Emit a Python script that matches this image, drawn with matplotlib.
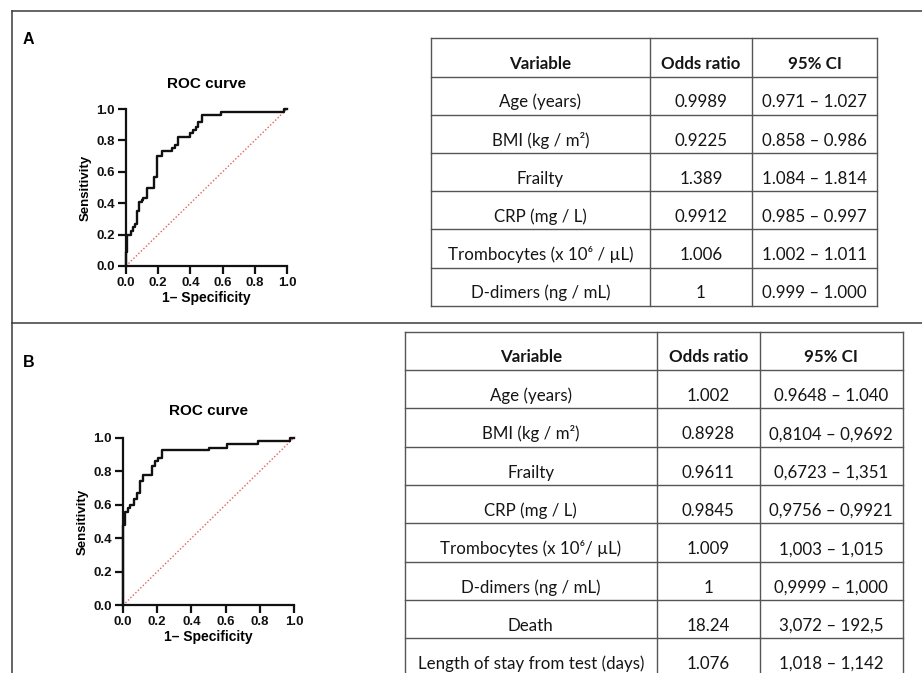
import matplotlib
matplotlib.use("Agg")
import matplotlib.pyplot as plt

# ---------------- data ----------------
roc_a_fpr = [0, 0, 0.008, 0.029, 0.041, 0.056, 0.070, 0.083, 0.097, 0.104, 0.133, 0.176,
             0.19, 0.222, 0.284, 0.304, 0.325, 0.397, 0.418, 0.435, 0.449, 0.47, 0.59, 0.98, 1.0]
roc_a_tpr = [0, 0.09, 0.20, 0.22, 0.25, 0.27, 0.35, 0.41, 0.42, 0.43, 0.50, 0.57,
             0.70, 0.73, 0.75, 0.77, 0.82, 0.845, 0.866, 0.887, 0.92, 0.96, 0.98, 1.0, 1.0]

roc_b_fpr = [0, 0, 0.012, 0.027, 0.043, 0.066, 0.08, 0.10, 0.119, 0.168, 0.187, 0.203,
             0.23, 0.5, 0.607, 0.788, 0.977, 1.0]
roc_b_tpr = [0, 0.48, 0.555, 0.58, 0.60, 0.635, 0.67, 0.74, 0.78, 0.83, 0.86, 0.88,
             0.926, 0.94, 0.96, 0.98, 1.0, 1.0]

ticks = [0.0, 0.2, 0.4, 0.6, 0.8, 1.0]
tick_labels = ["0.0", "0.2", "0.4", "0.6", "0.8", "1.0"]

table_header = ["Variable", "Odds ratio", "95% CI"]

vars_a = ["Age (years)", "BMI (kg / m\u00b2)", "Frailty", "CRP (mg / L)",
          "Trombocytes (x 10\u2076 / \u00b5L)", "D-dimers (ng / mL)"]
or_a = ["0.9989", "0.9225", "1.389", "0.9912", "1.006", "1"]
ci_a = ["0.971 \u2013 1.027", "0.858 \u2013 0.986", "1.084 \u2013 1.814",
        "0.985 \u2013 0.997", "1.002 \u2013 1.011", "0.999 \u2013 1.000"]

vars_b = ["Age (years)", "BMI (kg / m\u00b2)", "Frailty", "CRP (mg / L)",
          "Trombocytes (x 10\u2076/ \u00b5L)", "D-dimers (ng / mL)", "Death",
          "Length of stay from test (days)"]
or_b = ["1.002", "0.8928", "0.9611", "0.9845", "1.009", "1", "18.24", "1.076"]
ci_b = ["0.9648 \u2013 1.040", "0,8104 \u2013 0,9692", "0,6723 \u2013 1,351",
        "0,9756 \u2013 0,9921", "1,003 \u2013 1,015", "0,9999 \u2013 1,000",
        "3,072 \u2013 192,5", "1,018 \u2013 1,142"]

# ---------------- figure ----------------
W, H = 922, 673
fig = plt.figure(figsize=(W / 100, H / 100), dpi=100)
fig.patch.set_facecolor("white")

bg = fig.add_axes([0, 0, 1, 1])
bg.set_xlim(0, W)
bg.set_ylim(H, 0)
bg.axis("off")

frame_col = "#3a3a3a"
bg.plot([12, W], [11, 11], color=frame_col, lw=1.1)
bg.plot([12, 12], [11, H], color=frame_col, lw=1.1)
bg.plot([12, W], [323, 323], color=frame_col, lw=1.1)

bg.text(23, 44, "A", fontsize=11.5, fontweight="bold", family="Liberation Sans", va="baseline")
bg.text(23, 367, "B", fontsize=11.5, fontweight="bold", family="Liberation Sans", va="baseline")

TFONT = ["Lato", "DejaVu Sans"]
line_col = "#555555"
TSIZE = 12.2


def draw_table(cols, top, rowh, nrows, header, c1, c2, c3):
    bottom = top + rowh * nrows
    for x in cols:
        bg.plot([x, x], [top, bottom], color=line_col, lw=1.0, clip_on=True)
    for i in range(nrows + 1):
        y = top + rowh * i
        bg.plot([cols[0], cols[-1]], [y, y], color=line_col, lw=1.0)
    centers = [(cols[i] + cols[i + 1]) / 2 for i in range(3)]
    for j, h in enumerate(header):
        bg.text(centers[j], top + rowh * 0.80, h, ha="center", va="baseline",
                fontsize=TSIZE, fontweight="bold", family=TFONT, color="#151515")
    for i in range(len(c1)):
        yb = top + rowh * (i + 1) + rowh * 0.81
        for j, val in enumerate((c1[i], c2[i], c3[i])):
            bg.text(centers[j], yb, val, ha="center", va="baseline",
                    fontsize=TSIZE, family=TFONT, color="#151515")


draw_table([430.7, 650, 752, 877], 38.3, 38.2, 7, table_header, vars_a, or_a, ci_a)
draw_table([405, 656.7, 760, 902.7], 331.7, 38.3, 9, table_header, vars_b, or_b, ci_b)


def roc_axes(rect_px, fpr, tpr, title_pad):
    x0, y_top, x1, y_bot = rect_px
    ax = fig.add_axes([x0 / W, (H - y_bot) / H, (x1 - x0) / W, (y_bot - y_top) / H])
    ax.set_xlim(0, 1)
    ax.set_ylim(0, 1)
    for s in ("top", "right"):
        ax.spines[s].set_visible(False)
    for s in ("left", "bottom"):
        ax.spines[s].set_linewidth(1.6)
        ax.spines[s].set_color("#111111")
    ax.set_xticks(ticks)
    ax.set_yticks(ticks)
    ax.set_xticklabels(tick_labels)
    ax.set_yticklabels(tick_labels)
    ax.tick_params(direction="out", length=5.5, width=1.6, pad=2.5, labelsize=9.5,
                   colors="#111111")
    for lab in ax.get_xticklabels() + ax.get_yticklabels():
        lab.set_fontweight("bold")
        lab.set_family("Liberation Sans")
    ax.plot([0, 1], [0, 1], color="#e06060", lw=1.0, ls=(0, (1, 1.5)), clip_on=False)
    ax.step(fpr, tpr, where="post", color="#111111", lw=1.7, clip_on=False, zorder=3)
    ax.set_xlabel("1\u2013 Specificity", fontsize=10, fontweight="bold",
                  family="Liberation Sans", labelpad=1.5)
    ax.set_ylabel("Sensitivity", fontsize=9.5, fontweight="bold",
                  family="Liberation Sans", labelpad=3)
    ax.set_title("ROC curve", fontsize=11, fontweight="bold", family="Liberation Sans",
                 pad=title_pad)
    ax.patch.set_alpha(0)
    return ax


roc_axes((126, 109, 287, 266), roc_a_fpr, roc_a_tpr, 15)
roc_axes((123, 437.7, 294, 605.3), roc_b_fpr, roc_b_tpr, 16)

fig.savefig("out.png", dpi=100, facecolor="white")
